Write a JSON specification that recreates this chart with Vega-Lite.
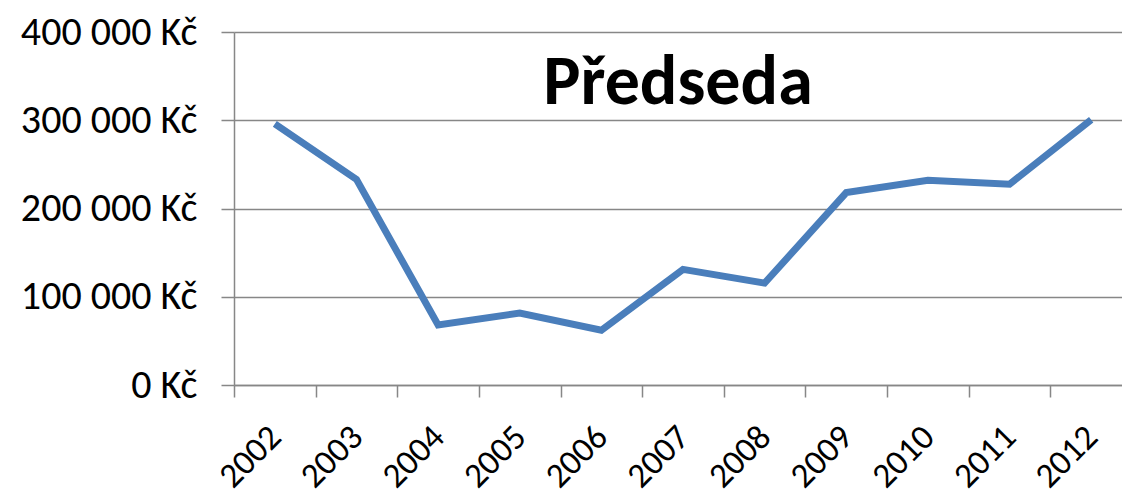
{
  "$schema": "https://vega.github.io/schema/vega-lite/v6.json",
  "autosize": "none",
  "width": 888,
  "height": 353,
  "padding": {"left": 234, "top": 32, "right": 0, "bottom": 114},
  "background": "white",
  "layer": [
    {
      "data": {
        "values": [
          {"rok": "2002", "castka": 296000},
          {"rok": "2003", "castka": 233000},
          {"rok": "2004", "castka": 68000},
          {"rok": "2005", "castka": 81500},
          {"rok": "2006", "castka": 62000},
          {"rok": "2007", "castka": 131000},
          {"rok": "2008", "castka": 115500},
          {"rok": "2009", "castka": 218000},
          {"rok": "2010", "castka": 232000},
          {"rok": "2011", "castka": 227500},
          {"rok": "2012", "castka": 300500}
        ]
      },
      "mark": {"type": "line", "color": "#4a7ebb", "strokeWidth": 7, "strokeJoin": "miter"},
      "encoding": {
        "x": {
          "field": "rok",
          "type": "ordinal",
          "scale": {"type": "band", "paddingInner": 0, "paddingOuter": 0, "range": [0, 898]},
          "axis": {
            "title": null,
            "tickBand": "extent",
            "grid": false,
            "domainColor": "#878787",
            "domainWidth": 1.5,
            "tickColor": "#878787",
            "tickWidth": 1.5,
            "tickSize": 12,
            "labelAngle": -45,
            "labelAlign": "right",
            "labelBaseline": "middle",
            "labelPadding": 34,
            "labelFont": "Calibri, Carlito, Open Sans",
            "labelFontSize": 35,
            "labelColor": "black"
          }
        },
        "y": {
          "field": "castka",
          "type": "quantitative",
          "scale": {"domain": [0, 400000], "nice": false},
          "axis": {
            "title": null,
            "values": [0, 100000, 200000, 300000, 400000],
            "labelExpr": "replace(format(datum.value, ','), regexp(',', 'g'), ' ') + ' Kč'",
            "grid": true,
            "gridColor": "#878787",
            "gridWidth": 1.5,
            "domainColor": "#878787",
            "domainWidth": 1.5,
            "tickColor": "#878787",
            "tickWidth": 1.5,
            "tickSize": 13,
            "labelPadding": 24,
            "labelFont": "Calibri, Carlito, Open Sans",
            "labelFontSize": 40,
            "labelColor": "black"
          }
        }
      }
    },
    {
      "data": {"values": [{"nazev": "Předseda"}]},
      "mark": {
        "type": "text",
        "font": "Calibri, Carlito, Open Sans",
        "fontSize": 70,
        "fontWeight": "bold",
        "color": "black",
        "align": "center",
        "baseline": "alphabetic",
        "dx": -5
      },
      "encoding": {
        "x": {"datum": "2007", "type": "ordinal"},
        "y": {"datum": 318000, "type": "quantitative"},
        "text": {"field": "nazev", "type": "nominal"}
      }
    }
  ],
  "config": {"view": {"stroke": null}}
}
